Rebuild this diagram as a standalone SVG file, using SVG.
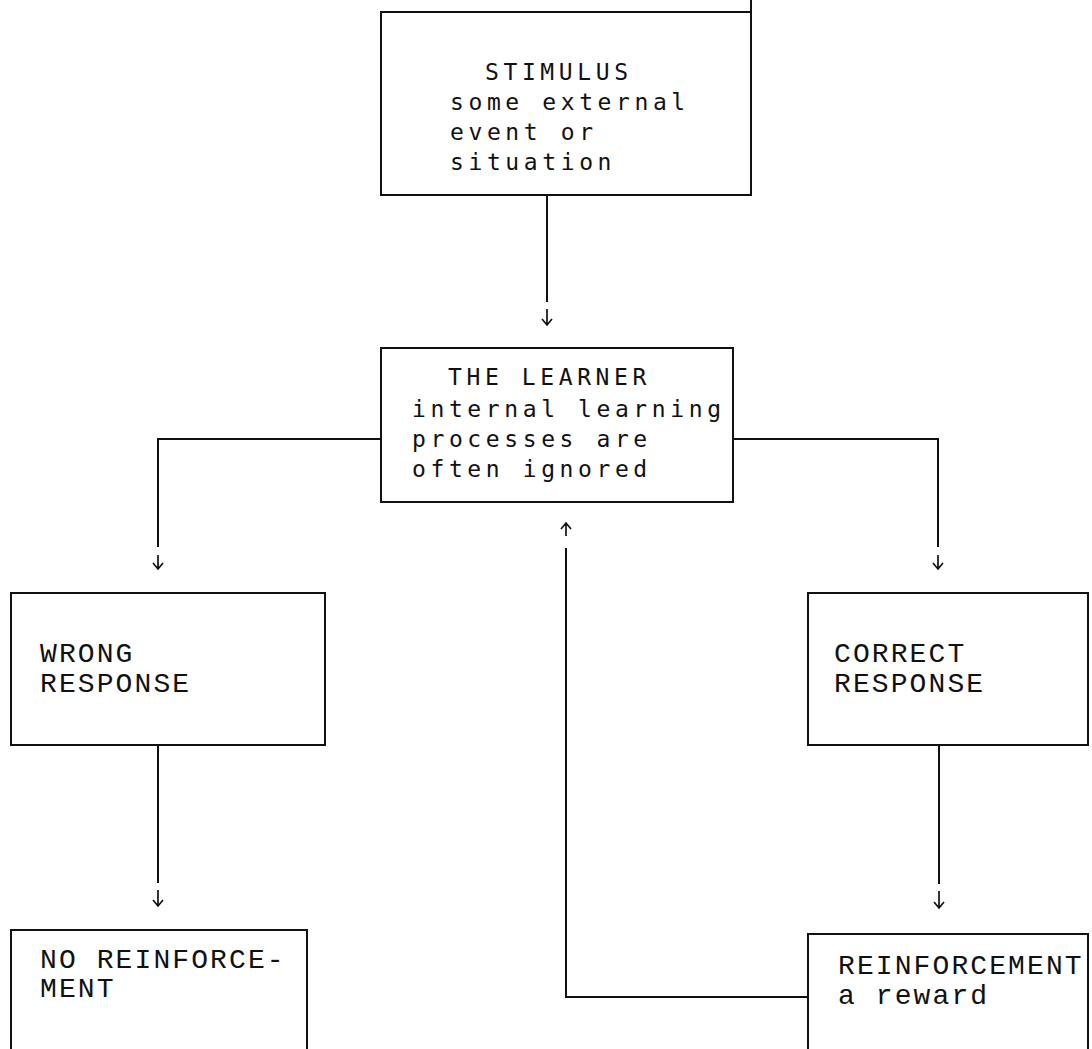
<svg xmlns="http://www.w3.org/2000/svg" width="1092" height="1049" viewBox="0 0 1092 1049">
<style>
.box{fill:none;stroke:#111;stroke-width:2}
.ln{fill:none;stroke:#111;stroke-width:2}
.ah{fill:none;stroke:#111;stroke-width:1.7}
.sa{font-family:"DejaVu Sans Mono","Liberation Mono",monospace;font-size:23px;letter-spacing:4.6px;fill:#111}
.sb{font-family:"Liberation Mono","Courier New",monospace;font-size:28px;letter-spacing:2.1px;fill:#111}
</style>
<rect width="1092" height="1049" fill="#fff"/>
<g id="connectors">
<path class="ln" d="M547,195 V302"/>
<path class="ah" d="M547,309 V325 M542,319 L547,325 L552,319"/>
<path class="ln" d="M381,439 H158 V547"/>
<path class="ah" d="M158,555 V569 M153,563 L158,569 L163,563"/>
<path class="ln" d="M733,439 H938 V547"/>
<path class="ah" d="M938,555 V569 M933,563 L938,569 L943,563"/>
<path class="ln" d="M158,745 V883"/>
<path class="ah" d="M158,890 V906 M153,900 L158,906 L163,900"/>
<path class="ln" d="M939,745 V884"/>
<path class="ah" d="M939,891 V908 M934,902 L939,908 L944,902"/>
<path class="ln" d="M808,997 H566 V548"/>
<path class="ah" d="M566,536 V523 M561,529 L566,523 L571,529"/>
</g>
<g id="stimulus">
<path class="box" d="M751,0 V195 H381 V12 H751"/>
<text class="sa" x="485" y="80">STIMULUS</text>
<text class="sa" x="450" y="110">some external</text>
<text class="sa" x="450" y="140">event or</text>
<text class="sa" x="450" y="170">situation</text>
</g>
<g id="learner">
<rect class="box" x="381" y="348" width="352" height="154"/>
<text class="sa" x="448" y="385">THE LEARNER</text>
<text class="sa" x="412" y="417">internal learning</text>
<text class="sa" x="412" y="447">processes are</text>
<text class="sa" x="412" y="477">often ignored</text>
</g>
<g id="wrong">
<rect class="box" x="11" y="593" width="314" height="152"/>
<text class="sb" x="40" y="662">WRONG</text>
<text class="sb" x="40" y="692">RESPONSE</text>
</g>
<g id="correct">
<rect class="box" x="808" y="593" width="280" height="152"/>
<text class="sb" x="834" y="662">CORRECT</text>
<text class="sb" x="834" y="692">RESPONSE</text>
</g>
<g id="noreinforcement">
<path class="box" d="M11,1049 V930 H307 V1049"/>
<text class="sb" x="40" y="968">NO REINFORCE-</text>
<text class="sb" x="40" y="997">MENT</text>
</g>
<g id="reinforcement">
<path class="box" d="M808,1049 V934 H1088 V1049"/>
<text class="sb" x="838" y="974">REINFORCEMENT</text>
<text class="sb" x="838" y="1004">a reward</text>
</g>
</svg>
